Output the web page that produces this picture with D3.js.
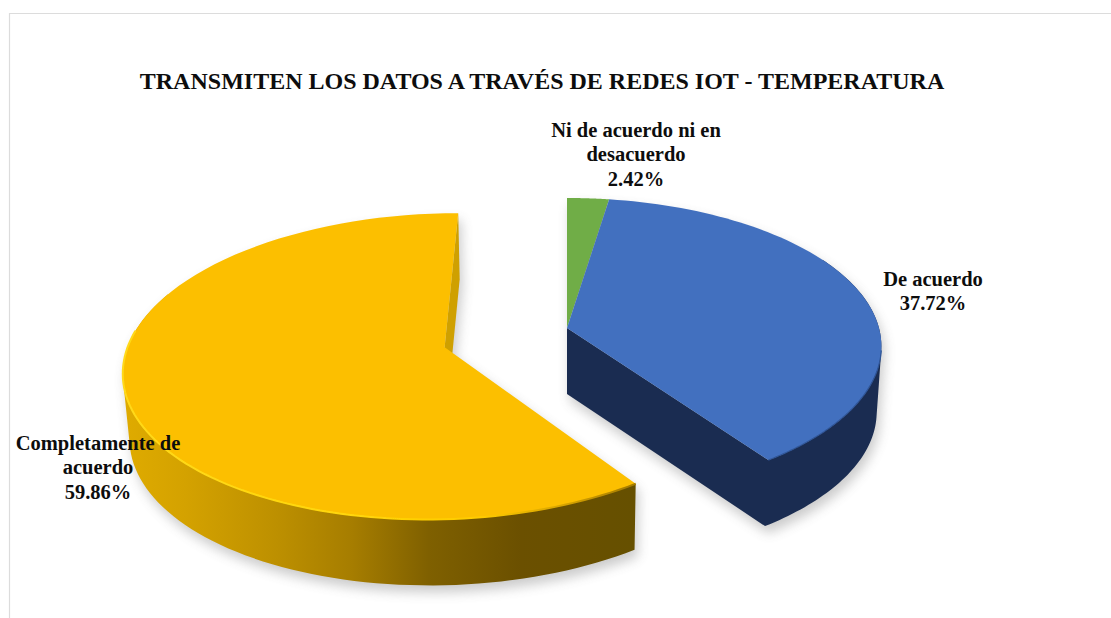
<!DOCTYPE html>
<html>
<head>
<meta charset="utf-8">
<script src="https://cdn.jsdelivr.net/npm/d3@7"></script>
<style>
html, body { margin: 0; padding: 0; background: #fff; }
svg { display: block; }
text { font-family: "Liberation Serif", serif; font-weight: bold; fill: #0d0d0d; text-anchor: middle; }
</style>
</head>
<body>
<div id="chart"></div>
<script>
var title = 'TRANSMITEN LOS DATOS A TRAVÉS DE REDES IOT - TEMPERATURA';
var categories = ['Ni de acuerdo ni en desacuerdo', 'De acuerdo', 'Completamente de acuerdo'];
var values = [2.42, 37.72, 59.86];
var labelLines = [['Ni de acuerdo ni en', 'desacuerdo'], ['De acuerdo'], ['Completamente de', 'acuerdo']];
var topColors = ['#70ad47', '#4270bf', '#fcbf00'];

var width = 1111;
var height = 618;

// perspective of the tilted pie
var pie_x = 567, pie_y = 328;
var rx = 312, ry = 146, persp = 0.123;
var depth = 66, depth_shrink = 0.015;
// how far each slice is pulled out of the centre, in radius units
var explode = [[0, 0], [0, 0], [-0.386, 0.129]];
var labelAt = [[636, 137], [933, 286], [98, 450]];

var svg = d3.select('#chart').append('svg')
    .attr('width', width)
    .attr('height', height);

var defs = svg.append('defs');

var blur = defs.append('filter')
    .attr('id', 'soft')
    .attr('x', '-10%').attr('y', '-10%')
    .attr('width', '120%').attr('height', '120%');
blur.append('feGaussianBlur').attr('stdDeviation', 6);

var soft_rim = defs.append('filter')
    .attr('id', 'soft-rim')
    .attr('x', '-5%').attr('y', '-5%')
    .attr('width', '110%').attr('height', '110%');
soft_rim.append('feGaussianBlur').attr('stdDeviation', 0.7);

function add_gradient(id, stops) {
    var grad = defs.append('linearGradient')
        .attr('id', id)
        .attr('gradientUnits', 'userSpaceOnUse')
        .attr('x1', 123).attr('x2', 633)
        .attr('y1', 0).attr('y2', 0);
    stops.forEach(function (s) {
        grad.append('stop').attr('offset', s[0]).attr('stop-color', s[1]);
    });
}
add_gradient('yellow-wall', [
    [0, '#dfab00'], [0.12, '#d4a200'], [0.3, '#bd9000'], [0.45, '#a67d00'],
    [0.6, '#7f6000'], [0.78, '#6b5000'], [1, '#665000']
]);
add_gradient('yellow-rim', [
    [0, '#ffd91a'], [0.45, '#ffd60a'], [0.7, '#ffcb00'], [0.88, '#d29f00'], [1, '#a37b00']
]);

function project(u, v, h, off) {
    var mu = u + off[0], mv = v + off[1];
    var w = 1 - persp * mv;
    return [
        pie_x + rx * mu / (w + depth_shrink * h),
        pie_y + ry * mv / w + depth * h
    ];
}
function rim_point(angle, h, off) {
    return project(Math.sin(angle), -Math.cos(angle), h, off);
}
function arc_points(a0, a1, h, off) {
    var n = 80;
    return d3.range(n + 1).map(function (i) {
        return rim_point(a0 + (a1 - a0) * i / n, h, off);
    });
}

var line = d3.line();
function close_path(pts) { return line(pts) + 'Z'; }

// wall as one strip per step, all wound the same way so the fold at the silhouette stays filled
function wall_path(a0, a1, off) {
    var top = arc_points(a0, a1, 0, off);
    var bottom = arc_points(a0, a1, 1, off);
    return d3.range(top.length - 1).map(function (i) {
        var quad = [top[i], top[i + 1], bottom[i + 1], bottom[i]];
        if (d3.polygonArea(quad) < 0) quad.reverse();
        return close_path(quad);
    }).join('');
}

var slices = d3.pie().sort(null).value(function (d) { return d; })(values);
var green = slices[0], blue = slices[1], yellow = slices[2];
var blue_off = explode[1], yellow_off = explode[2];

// the back of the yellow rim is hidden behind its own top face
var yellow_wall = wall_path(yellow.startAngle, Math.PI * 1.62, yellow_off);
var yellow_cut = close_path([
    rim_point(yellow.endAngle, 0, yellow_off),
    project(0, 0, 0, yellow_off),
    project(0, 0, 1, yellow_off),
    rim_point(yellow.endAngle, 1, yellow_off)
]);
var blue_wall = wall_path(blue.startAngle + 0.9, blue.endAngle, blue_off) + close_path([
    project(0, 0, 0, blue_off),
    rim_point(blue.endAngle, 0, blue_off),
    rim_point(blue.endAngle, 1, blue_off),
    project(0, 0, 1, blue_off)
]);

function face(slice, off) {
    return close_path([project(0, 0, 0, off)].concat(arc_points(slice.startAngle, slice.endAngle, 0, off)));
}

// frame
svg.append('path')
    .attr('d', 'M9.5,' + height + 'V13.5H' + width)
    .attr('fill', 'none')
    .attr('stroke', '#dcdcdc')
    .attr('stroke-width', 1.2);

// soft shadow under both pieces
var shadow = svg.append('g')
    .attr('filter', 'url(#soft)')
    .attr('transform', 'translate(3,7)')
    .attr('opacity', 0.3)
    .attr('fill', '#555');
[yellow_wall, yellow_cut, blue_wall].forEach(function (d) {
    shadow.append('path').attr('d', d);
});
shadow.append('path').attr('d', face(yellow, yellow_off));
shadow.append('path').attr('d', face(blue, blue_off));
shadow.append('path').attr('d', face(green, blue_off));

// walls
svg.append('path').attr('d', yellow_cut).attr('fill', '#cfa000');
svg.append('path').attr('d', yellow_wall).attr('fill', 'url(#yellow-wall)');
svg.append('path').attr('d', blue_wall).attr('fill', '#1a2c51');

// top faces
svg.selectAll('.top')
    .data(slices)
    .enter().append('path')
    .attr('class', 'top')
    .attr('d', function (d, i) { return face(d, explode[i]); })
    .attr('fill', function (d, i) { return topColors[i]; });

// lit / dark bevel on the front rim
svg.append('path')
    .attr('d', line(arc_points(yellow.startAngle, yellow.startAngle + 2.3, 0, yellow_off)))
    .attr('fill', 'none')
    .attr('stroke', 'url(#yellow-rim)')
    .attr('stroke-width', 2)
    .attr('filter', 'url(#soft-rim)');
svg.append('path')
    .attr('d', line(arc_points(blue.endAngle, blue.endAngle - 0.8, 0, blue_off)))
    .attr('fill', 'none')
    .attr('stroke', '#2f5597')
    .attr('stroke-width', 1.2)
    .attr('filter', 'url(#soft-rim)');

// texts
svg.append('text')
    .attr('x', 542)
    .attr('y', 89)
    .style('font-size', '24px')
    .text(title);

var labels = svg.selectAll('.label')
    .data(slices)
    .enter().append('text')
    .attr('class', 'label')
    .attr('transform', function (d, i) { return 'translate(' + labelAt[i][0] + ',' + labelAt[i][1] + ')'; })
    .style('font-size', '20.5px');

labels.selectAll('tspan')
    .data(function (d, i) { return labelLines[i].concat([d3.format('.2f')(d.value) + '%']); })
    .enter().append('tspan')
    .attr('x', 0)
    .attr('y', function (d, i) { return i * 24.3; })
    .text(function (d) { return d; });
</script>
</body>
</html>
